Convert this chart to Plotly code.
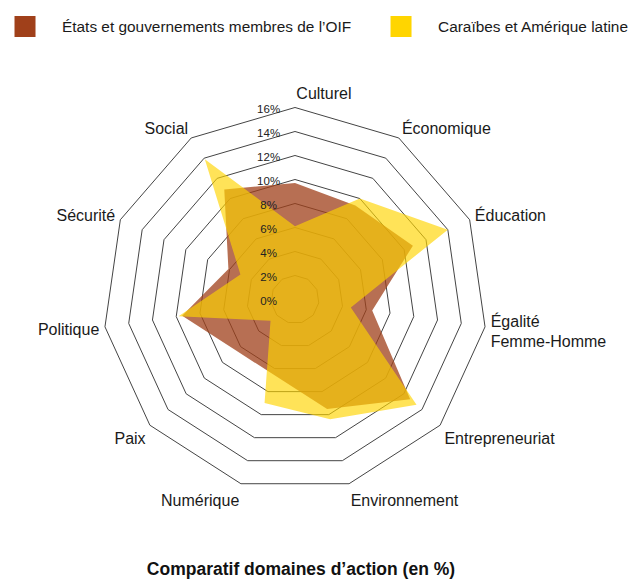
import plotly.graph_objects as go

# Domaines d'action (ordre horaire à partir du haut)
categories = [
    "Culturel", "Économique", "Éducation", "Égalité<br>Femme-Homme",
    "Entrepreneuriat", "Environnement", "Numérique", "Paix",
    "Politique", "Sécurité", "Social",
]

# Part de chaque domaine (%)
oif_values = [9.7, 9.3, 10.8, 6.5, 12.7, 9.5, 6.5, 6.5, 9.5, 6.1, 10.9]
caraibes_values = [6.1, 10.0, 14.0, 4.7, 13.4, 10.4, 9.0, 2.7, 9.8, 5.0, 13.9]

series_names = ["États et gouvernements membres de l’OIF", "Caraïbes et Amérique latine"]
series_colors = ["#A0401A", "#FFD500"]
series_opacity = [0.75, 0.65]

radial_ticks = [0, 2, 4, 6, 8, 10, 12, 14, 16]
# single-digit labels padded so the column reads centred
radial_ticktext = [f"{t}%" + ("\u00a0" if t < 10 else "") for t in radial_ticks]

# Culturel label sits just right of the top vertex
angular_ticktext = ["\u00a0" * 13 + categories[0]] + categories[1:]

FONT = "Liberation Sans, Arial, sans-serif"

fig = go.Figure()

for name, vals, color, op in zip(series_names, [oif_values, caraibes_values],
                                 series_colors, series_opacity):
    fig.add_trace(go.Scatterpolar(
        r=vals + vals[:1],
        theta=categories + categories[:1],
        mode="none",
        fill="toself",
        fillcolor=color,
        opacity=op,
        name=name,
        showlegend=False,
        hoverinfo="skip",
    ))

# Legend swatches, one legend box per series
for i, (name, color) in enumerate(zip(series_names, series_colors)):
    fig.add_trace(go.Scatterpolar(
        r=[None], theta=[categories[0]],
        mode="markers",
        marker=dict(symbol="square", size=16, color=color,
                    line=dict(color=color, width=5)),
        name=name,
        showlegend=True,
        legend="legend" if i == 0 else "legend2",
    ))

legend_common = dict(
    orientation="h",
    xanchor="left", yanchor="top",
    itemwidth=64,
    font=dict(family=FONT, size=15.4, color="#1a1a1a"),
    bgcolor="rgba(0,0,0,0)",
)

fig.update_layout(
    width=631,
    height=583,
    margin=dict(l=0, r=0, t=0, b=0, autoexpand=False),
    paper_bgcolor="white",
    plot_bgcolor="white",
    font=dict(family=FONT, size=16, color="#1a1a1a"),
    showlegend=True,
    legend=dict(x=-0.019, y=0.983, **legend_common),
    legend2=dict(x=0.5769, y=0.983, **legend_common),
    polar=dict(
        domain=dict(x=[0.16323, 0.77179], y=[0.15695, 0.81561]),
        bgcolor="rgba(0,0,0,0)",
        gridshape="linear",
        radialaxis=dict(
            range=[0, 16],
            tickvals=radial_ticks,
            ticktext=radial_ticktext,
            angle=90,
            side="counterclockwise",
            showline=False,
            ticks="outside",
            ticklen=4,
            tickcolor="rgba(0,0,0,0)",
            showgrid=True,
            gridcolor="#444444",
            gridwidth=1,
            tickfont=dict(family=FONT, size=11.5, color="#222222"),
        ),
        angularaxis=dict(
            direction="clockwise",
            rotation=90,
            tickvals=categories,
            ticktext=angular_ticktext,
            showgrid=False,
            showline=True,
            linecolor="#444444",
            linewidth=1,
            ticks="outside",
            ticklen=2,
            tickcolor="rgba(0,0,0,0)",
            tickfont=dict(family=FONT, size=16, color="#1a1a1a"),
        ),
    ),
    title=dict(
        text="<b>Comparatif domaines d’action (en %)</b>",
        x=0.477, y=0.024,
        xanchor="center", yanchor="middle",
        font=dict(family=FONT, size=17.5, color="#111111"),
    ),
)

fig.write_html("out.html")
